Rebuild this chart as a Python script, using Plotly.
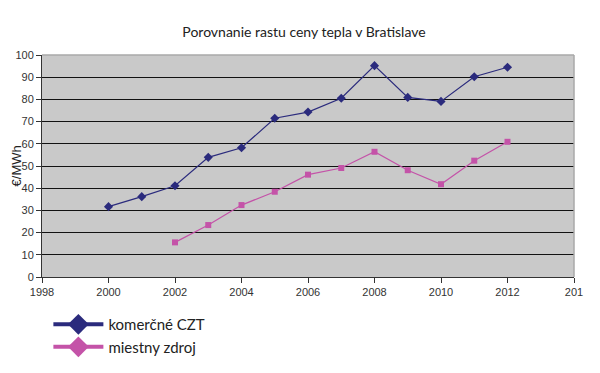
import plotly.graph_objects as go

years_czt = [2000, 2001, 2002, 2003, 2004, 2005, 2006, 2007, 2008, 2009, 2010, 2011, 2012]
czt = [31.7, 36.2, 41.1, 53.9, 58.2, 71.5, 74.3, 80.5, 95.2, 80.9, 79.1, 90.2, 94.5]
years_local = [2002, 2003, 2004, 2005, 2006, 2007, 2008, 2009, 2010, 2011, 2012]
local = [15.6, 23.4, 32.4, 38.4, 46.1, 49.1, 56.4, 48.1, 41.8, 52.4, 60.9]
x_ticks = [1998, 2000, 2002, 2004, 2006, 2008, 2010, 2012, 2014]
x_ticktext = ["1998", "2000", "2002", "2004", "2006", "2008", "2010", "2012", "201"]
y_ticks = [0, 10, 20, 30, 40, 50, 60, 70, 80, 90, 100]
names = ["komerčné CZT", "miestny zdroj"]
title = "Porovnanie rastu ceny tepla v Bratislave"
y_title = "€/MWh"

blue = "#2b2b7d"
pink = "#c453a8"

fig = go.Figure()
fig.add_trace(go.Scatter(x=years_czt, y=czt, mode="lines+markers", showlegend=False,
                         line=dict(color=blue, width=1.2),
                         marker=dict(symbol="diamond", size=7, color=blue)))
fig.add_trace(go.Scatter(x=years_local, y=local, mode="lines+markers", showlegend=False,
                         line=dict(color=pink, width=1.2),
                         marker=dict(symbol="square", size=6, color=pink)))
# legend-only entries (diamond symbols in the legend)
for nm, c in zip(names, [blue, pink]):
    fig.add_trace(go.Scatter(x=[None], y=[None], mode="lines+markers", name=nm,
                             line=dict(color=c, width=4),
                             marker=dict(symbol="diamond", size=16, color=c)))

fig.update_layout(
    width=592, height=365,
    margin=dict(l=34, r=26, t=47, b=96, autoexpand=False),
    paper_bgcolor="white",
    plot_bgcolor="#c9c9c9",
    title=dict(text=title, x=0.5, xanchor="center", y=0.935, yanchor="middle",
               font=dict(family="Lato", size=14, color="#222")),
    showlegend=True,
    legend=dict(x=0.012, y=-0.14, xanchor="left", yanchor="top",
                font=dict(family="Lato", size=15, color="#222"),
                itemwidth=50, tracegroupgap=0, bgcolor="rgba(0,0,0,0)"),
    font=dict(family="Liberation Sans", size=11, color="#333"),
    annotations=[dict(text=y_title, xref="paper", yref="paper", x=-0.048, y=0.5,
                      xanchor="center", yanchor="middle", textangle=-90, showarrow=False,
                      font=dict(family="Liberation Sans", size=13, color="#222"))],
)
fig.update_xaxes(range=[1998, 2014], tickvals=x_ticks, ticktext=x_ticktext,
                 showgrid=False, zeroline=False, showline=True, linecolor="#333",
                 linewidth=1, ticks="outside", ticklen=5, tickcolor="#333", automargin=False,
                 tickfont=dict(family="Liberation Sans", size=11, color="#333"))
fig.update_yaxes(range=[0, 100], tickvals=y_ticks, showgrid=True, gridcolor="#111",
                 gridwidth=1, zeroline=False, showline=True, linecolor="#333",
                 linewidth=1, ticks="outside", ticklen=5, tickcolor="#333", automargin=False,
                 tickfont=dict(family="Liberation Sans", size=11, color="#333"))
# light grey frame at top and right
fig.add_shape(type="line", xref="paper", yref="paper", x0=0, x1=1, y0=1, y1=1,
              line=dict(color="#a8a8a8", width=1.5), layer="above")
fig.add_shape(type="line", xref="paper", yref="paper", x0=1, x1=1, y0=0, y1=1,
              line=dict(color="#a8a8a8", width=1.5), layer="above")

fig.write_html("out.html")
